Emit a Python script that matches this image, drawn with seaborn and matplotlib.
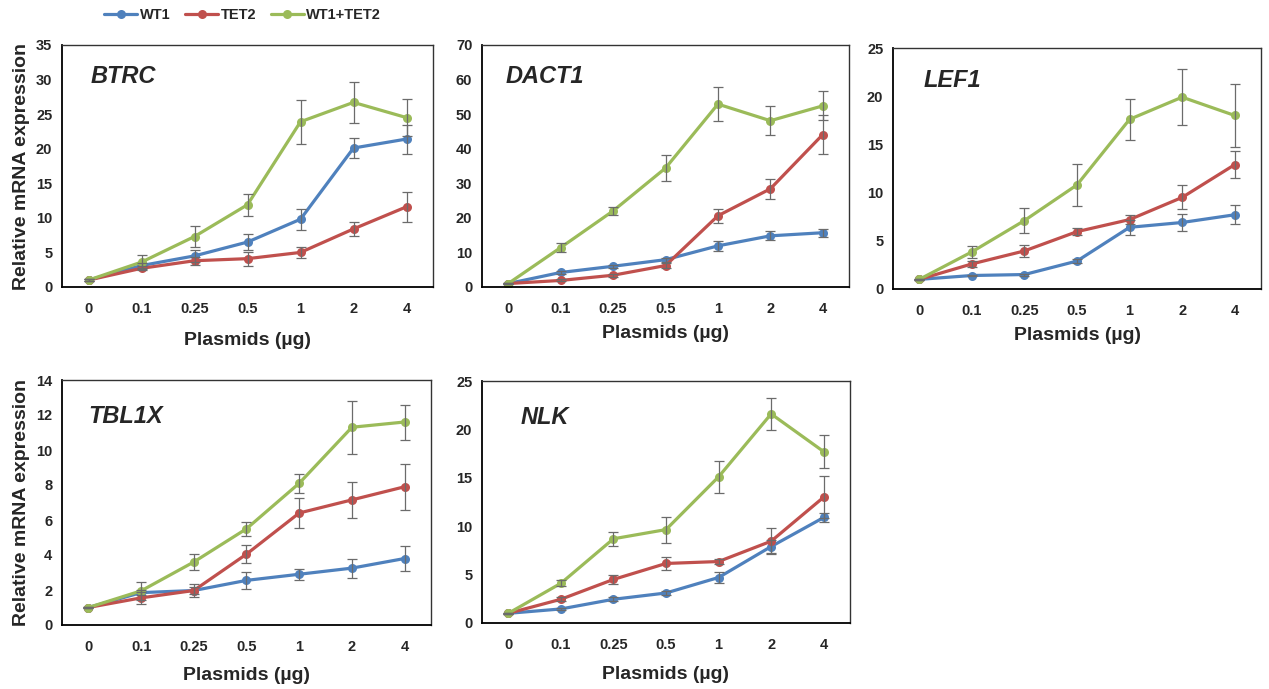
import numpy as np
import pandas as pd
import matplotlib
matplotlib.use("Agg")
import matplotlib.pyplot as plt
import seaborn as sns

# ---- data ----
SERIES = ["WT1", "TET2", "WT1+TET2"]
DOSES = ["0", "0.1", "0.25", "0.5", "1", "2", "4"]
GENES = ["BTRC", "DACT1", "LEF1", "TBL1X", "NLK"]

# rows: WT1, TET2, WT1+TET2
BTRC_MEAN = [[1, 3.1, 4.5, 6.5, 9.8, 20.1, 21.4],
             [1, 2.7, 3.8, 4.1, 5.0, 8.4, 11.6],
             [1, 3.6, 7.3, 11.9, 23.9, 26.7, 24.5]]
BTRC_SD = [[0.1, 0.4, 0.9, 1.2, 1.5, 1.5, 2.1],
           [0.1, 0.3, 0.6, 1.0, 0.8, 1.0, 2.2],
           [0.1, 1.0, 1.5, 1.6, 3.2, 3.0, 2.7]]

DACT1_MEAN = [[1, 4.2, 6.0, 7.9, 11.9, 14.8, 15.7],
              [1, 1.9, 3.4, 6.2, 20.6, 28.4, 44.1],
              [1, 11.4, 22.0, 34.4, 52.9, 48.1, 52.4]]
DACT1_SD = [[0.2, 0.5, 0.5, 0.6, 1.4, 1.3, 1.1],
            [0.1, 0.3, 0.4, 0.8, 2.1, 2.9, 5.6],
            [0.2, 1.4, 1.2, 3.7, 5.0, 4.2, 4.2]]

LEF1_MEAN = [[1, 1.4, 1.5, 2.9, 6.4, 6.9, 7.7],
             [1, 2.6, 3.95, 5.95, 7.2, 9.5, 12.9],
             [1, 3.85, 7.1, 10.8, 17.6, 19.9, 18.0]]
LEF1_SD = [[0.05, 0.1, 0.1, 0.25, 0.8, 0.9, 1.0],
           [0.05, 0.35, 0.6, 0.4, 0.5, 1.25, 1.4],
           [0.05, 0.6, 1.3, 2.2, 2.1, 2.9, 3.3]]

TBL1X_MEAN = [[1, 1.85, 1.97, 2.55, 2.9, 3.25, 3.8],
              [1, 1.55, 1.97, 4.05, 6.4, 7.15, 7.9],
              [1, 1.95, 3.6, 5.5, 8.1, 11.3, 11.6]]
TBL1X_SD = [[0.05, 0.15, 0.2, 0.5, 0.3, 0.55, 0.7],
            [0.05, 0.35, 0.35, 0.5, 0.85, 1.05, 1.3],
            [0.05, 0.5, 0.45, 0.4, 0.55, 1.5, 1.0]]

NLK_MEAN = [[1, 1.45, 2.45, 3.1, 4.7, 7.9, 10.9],
            [1, 2.45, 4.5, 6.15, 6.35, 8.45, 13.0],
            [1, 4.1, 8.7, 9.65, 15.1, 21.6, 17.7]]
NLK_SD = [[0.05, 0.15, 0.2, 0.2, 0.55, 0.7, 0.5],
          [0.05, 0.2, 0.45, 0.65, 0.3, 1.35, 2.15],
          [0.05, 0.3, 0.75, 1.35, 1.65, 1.65, 1.7]]

YMAX = [35, 70, 25, 14, 25]
YSTEP = [5, 10, 5, 2, 5]

MEANS = [BTRC_MEAN, DACT1_MEAN, LEF1_MEAN, TBL1X_MEAN, NLK_MEAN]
SDS = [BTRC_SD, DACT1_SD, LEF1_SD, TBL1X_SD, NLK_SD]

# ---- layout / style ----
COLORS = ["#4F81BD", "#C0504D", "#9BBB59"]
W, H = 1269, 689
# panel boxes in pixels: left, top, right, bottom
BOXES = [(62, 45, 433, 287), (482, 45, 849, 287), (893, 48, 1261, 289),
         (62, 380, 431, 625), (482, 381, 850, 623)]
GENE_POS = [(0.078, 0.868), (0.065, 0.868), (0.084, 0.867),
            (0.07, 0.853), (0.104, 0.851)]
XLABEL_PAD = [11, 6, 6, 9, 10]

sns.set_style("white")
plt.rcParams['font.family'] = ['Liberation Sans', 'DejaVu Sans']
plt.rcParams['font.weight'] = 'bold'
plt.rcParams['axes.labelweight'] = 'bold'

fig = plt.figure(figsize=(W / 100, H / 100), dpi=100)

x = np.arange(len(DOSES))
for i, gene in enumerate(GENES):
    l, t, r, b = BOXES[i]
    ax = fig.add_axes([l / W, 1 - b / H, (r - l) / W, (b - t) / H])

    rows = []
    for s, name in enumerate(SERIES):
        for k in range(len(DOSES)):
            rows.append({"pos": x[k], "value": MEANS[i][s][k], "series": name})
    df = pd.DataFrame(rows)

    sns.lineplot(data=df, x="pos", y="value", hue="series", hue_order=SERIES,
                 palette=COLORS, marker="o", markersize=6.5, markeredgewidth=0,
                 linewidth=2.3, legend=False, ax=ax)

    for s in range(len(SERIES)):
        ax.errorbar(x, MEANS[i][s], yerr=SDS[i][s], fmt="none",
                    ecolor="#6b6b6b", elinewidth=0.9, capsize=3.4,
                    capthick=0.9, zorder=4)

    ax.set_xlim(-0.5, len(DOSES) - 0.5)
    ax.set_ylim(0, YMAX[i])
    ax.set_yticks(np.arange(0, YMAX[i] + 0.01, YSTEP[i]))
    ax.set_xticks(x)
    ax.set_xticklabels(DOSES)
    ax.set_xticks(np.arange(-0.5, len(DOSES)), minor=True)
    ax.tick_params(axis="x", which="major", length=0, pad=11, labelsize=10.5)
    ax.tick_params(axis="x", which="minor", length=5, width=1.2,
                   direction="out", color="black")
    ax.tick_params(axis="y", length=5, width=1.2, direction="out",
                   color="black", labelsize=10.5, pad=2)
    for side in ["left", "bottom"]:
        ax.spines[side].set_color("black")
        ax.spines[side].set_linewidth(1.3)
    for side in ["top", "right"]:
        ax.spines[side].set_color("#333333")
        ax.spines[side].set_linewidth(1.0)

    ax.set_xlabel("Plasmids (µg)", fontsize=14, labelpad=XLABEL_PAD[i])
    if i in (0, 3):
        ax.set_ylabel("Relative mRNA expression", fontsize=14, labelpad=4)
    else:
        ax.set_ylabel("")
    gx, gy = GENE_POS[i]
    ax.text(gx, gy, gene, transform=ax.transAxes, fontsize=17,
            fontstyle="italic", fontweight="bold", va="center", ha="left")

    if i == 0:
        handles = ax.lines[:3]

fig.legend(handles=handles, labels=SERIES, loc="center left",
           bbox_to_anchor=(98 / W, 1 - 15 / H), ncol=3, frameon=False,
           fontsize=10.5, handlelength=2.3, handletextpad=0.15,
           columnspacing=1.0, borderaxespad=0)

fig.savefig("out.png", dpi=100)
